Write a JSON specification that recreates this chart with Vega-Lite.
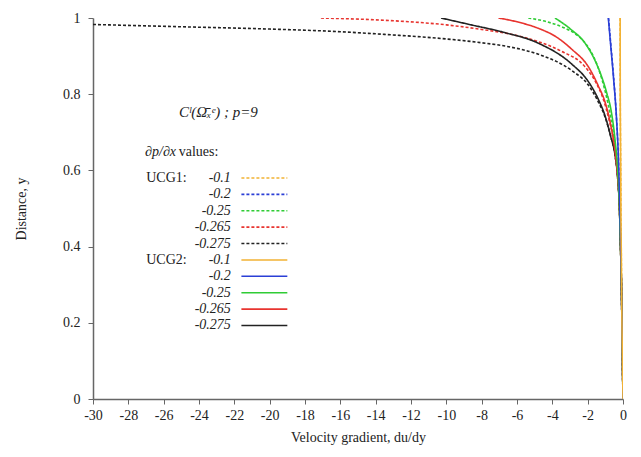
{
  "$schema": "https://vega.github.io/schema/vega-lite/v6.json",
  "width": 530,
  "height": 381,
  "autosize": "none",
  "padding": {"left": 93, "top": 18, "right": 18, "bottom": 58},
  "background": "white",
  "config": {
    "font": "Liberation Serif",
    "view": {"stroke": null},
    "axis": {
      "grid": false,
      "domainColor": "#666666",
      "domainWidth": 1.5,
      "tickColor": "#666666",
      "tickSize": 5,
      "labelFont": "Liberation Serif",
      "labelFontSize": 14,
      "labelColor": "#222222",
      "labelOverlap": false,
      "labelFlush": false,
      "titleFont": "Liberation Serif",
      "titleFontSize": 14,
      "titleFontWeight": "normal",
      "titleColor": "#222222"
    },
    "axisX": {"labelOverlap": false, "labelFlush": false, "labelSeparation": 0, "labelPadding": 4, "titlePadding": 8},
    "axisY": {"labelOverlap": false, "labelFlush": false, "labelPadding": 8, "titlePadding": 34}
  },
  "datasets": {
    "curves": [
      {"curve": "UCG1 -0.1", "set": "UCG1", "dp": "-0.1", "x": -0.16, "y": 1.0},
      {"curve": "UCG1 -0.1", "set": "UCG1", "dp": "-0.1", "x": -0.155, "y": 0.8},
      {"curve": "UCG1 -0.1", "set": "UCG1", "dp": "-0.1", "x": -0.145, "y": 0.7},
      {"curve": "UCG1 -0.1", "set": "UCG1", "dp": "-0.1", "x": -0.13, "y": 0.6},
      {"curve": "UCG1 -0.1", "set": "UCG1", "dp": "-0.1", "x": -0.12, "y": 0.5},
      {"curve": "UCG1 -0.1", "set": "UCG1", "dp": "-0.1", "x": -0.1, "y": 0.4},
      {"curve": "UCG1 -0.1", "set": "UCG1", "dp": "-0.1", "x": -0.08, "y": 0.3},
      {"curve": "UCG1 -0.1", "set": "UCG1", "dp": "-0.1", "x": -0.06, "y": 0.2},
      {"curve": "UCG1 -0.1", "set": "UCG1", "dp": "-0.1", "x": -0.03, "y": 0.1},
      {"curve": "UCG1 -0.1", "set": "UCG1", "dp": "-0.1", "x": 0, "y": 0},

      {"curve": "UCG1 -0.2", "set": "UCG1", "dp": "-0.2", "x": -0.82, "y": 1.0},
      {"curve": "UCG1 -0.2", "set": "UCG1", "dp": "-0.2", "x": -0.69, "y": 0.93},
      {"curve": "UCG1 -0.2", "set": "UCG1", "dp": "-0.2", "x": -0.54, "y": 0.85},
      {"curve": "UCG1 -0.2", "set": "UCG1", "dp": "-0.2", "x": -0.36, "y": 0.73},
      {"curve": "UCG1 -0.2", "set": "UCG1", "dp": "-0.2", "x": -0.25, "y": 0.62},
      {"curve": "UCG1 -0.2", "set": "UCG1", "dp": "-0.2", "x": -0.18, "y": 0.5},
      {"curve": "UCG1 -0.2", "set": "UCG1", "dp": "-0.2", "x": -0.13, "y": 0.4},
      {"curve": "UCG1 -0.2", "set": "UCG1", "dp": "-0.2", "x": -0.09, "y": 0.3},
      {"curve": "UCG1 -0.2", "set": "UCG1", "dp": "-0.2", "x": -0.06, "y": 0.2},
      {"curve": "UCG1 -0.2", "set": "UCG1", "dp": "-0.2", "x": -0.03, "y": 0.1},
      {"curve": "UCG1 -0.2", "set": "UCG1", "dp": "-0.2", "x": 0, "y": 0},

      {"curve": "UCG1 -0.25", "set": "UCG1", "dp": "-0.25", "x": -5.36, "y": 1.0},
      {"curve": "UCG1 -0.25", "set": "UCG1", "dp": "-0.25", "x": -4.3, "y": 0.99},
      {"curve": "UCG1 -0.25", "set": "UCG1", "dp": "-0.25", "x": -3.47, "y": 0.977},
      {"curve": "UCG1 -0.25", "set": "UCG1", "dp": "-0.25", "x": -2.6, "y": 0.955},
      {"curve": "UCG1 -0.25", "set": "UCG1", "dp": "-0.25", "x": -2.1, "y": 0.932},
      {"curve": "UCG1 -0.25", "set": "UCG1", "dp": "-0.25", "x": -1.58, "y": 0.89},
      {"curve": "UCG1 -0.25", "set": "UCG1", "dp": "-0.25", "x": -1.2, "y": 0.84},
      {"curve": "UCG1 -0.25", "set": "UCG1", "dp": "-0.25", "x": -0.98, "y": 0.802},
      {"curve": "UCG1 -0.25", "set": "UCG1", "dp": "-0.25", "x": -0.7, "y": 0.74},
      {"curve": "UCG1 -0.25", "set": "UCG1", "dp": "-0.25", "x": -0.45, "y": 0.66},
      {"curve": "UCG1 -0.25", "set": "UCG1", "dp": "-0.25", "x": -0.3, "y": 0.58},
      {"curve": "UCG1 -0.25", "set": "UCG1", "dp": "-0.25", "x": -0.2, "y": 0.5},
      {"curve": "UCG1 -0.25", "set": "UCG1", "dp": "-0.25", "x": -0.14, "y": 0.4},
      {"curve": "UCG1 -0.25", "set": "UCG1", "dp": "-0.25", "x": -0.09, "y": 0.3},
      {"curve": "UCG1 -0.25", "set": "UCG1", "dp": "-0.25", "x": -0.06, "y": 0.2},
      {"curve": "UCG1 -0.25", "set": "UCG1", "dp": "-0.25", "x": -0.03, "y": 0.1},
      {"curve": "UCG1 -0.25", "set": "UCG1", "dp": "-0.25", "x": 0, "y": 0},

      {"curve": "UCG1 -0.265", "set": "UCG1", "dp": "-0.265", "x": -17.1, "y": 1.0},
      {"curve": "UCG1 -0.265", "set": "UCG1", "dp": "-0.265", "x": -13.5, "y": 0.994},
      {"curve": "UCG1 -0.265", "set": "UCG1", "dp": "-0.265", "x": -10, "y": 0.982},
      {"curve": "UCG1 -0.265", "set": "UCG1", "dp": "-0.265", "x": -8, "y": 0.97},
      {"curve": "UCG1 -0.265", "set": "UCG1", "dp": "-0.265", "x": -6.4, "y": 0.958},
      {"curve": "UCG1 -0.265", "set": "UCG1", "dp": "-0.265", "x": -4.8, "y": 0.938},
      {"curve": "UCG1 -0.265", "set": "UCG1", "dp": "-0.265", "x": -3.5, "y": 0.913},
      {"curve": "UCG1 -0.265", "set": "UCG1", "dp": "-0.265", "x": -2.15, "y": 0.872},
      {"curve": "UCG1 -0.265", "set": "UCG1", "dp": "-0.265", "x": -1.5, "y": 0.828},
      {"curve": "UCG1 -0.265", "set": "UCG1", "dp": "-0.265", "x": -1.1, "y": 0.785},
      {"curve": "UCG1 -0.265", "set": "UCG1", "dp": "-0.265", "x": -0.8, "y": 0.735},
      {"curve": "UCG1 -0.265", "set": "UCG1", "dp": "-0.265", "x": -0.5, "y": 0.67},
      {"curve": "UCG1 -0.265", "set": "UCG1", "dp": "-0.265", "x": -0.3, "y": 0.59},
      {"curve": "UCG1 -0.265", "set": "UCG1", "dp": "-0.265", "x": -0.2, "y": 0.5},
      {"curve": "UCG1 -0.265", "set": "UCG1", "dp": "-0.265", "x": -0.14, "y": 0.4},
      {"curve": "UCG1 -0.265", "set": "UCG1", "dp": "-0.265", "x": -0.09, "y": 0.3},
      {"curve": "UCG1 -0.265", "set": "UCG1", "dp": "-0.265", "x": -0.06, "y": 0.2},
      {"curve": "UCG1 -0.265", "set": "UCG1", "dp": "-0.265", "x": -0.03, "y": 0.1},
      {"curve": "UCG1 -0.265", "set": "UCG1", "dp": "-0.265", "x": 0, "y": 0},

      {"curve": "UCG1 -0.275", "set": "UCG1", "dp": "-0.275", "x": -30, "y": 0.983},
      {"curve": "UCG1 -0.275", "set": "UCG1", "dp": "-0.275", "x": -25, "y": 0.977},
      {"curve": "UCG1 -0.275", "set": "UCG1", "dp": "-0.275", "x": -20, "y": 0.971},
      {"curve": "UCG1 -0.275", "set": "UCG1", "dp": "-0.275", "x": -16, "y": 0.964},
      {"curve": "UCG1 -0.275", "set": "UCG1", "dp": "-0.275", "x": -13.5, "y": 0.957},
      {"curve": "UCG1 -0.275", "set": "UCG1", "dp": "-0.275", "x": -10, "y": 0.945},
      {"curve": "UCG1 -0.275", "set": "UCG1", "dp": "-0.275", "x": -8, "y": 0.935},
      {"curve": "UCG1 -0.275", "set": "UCG1", "dp": "-0.275", "x": -6.4, "y": 0.924},
      {"curve": "UCG1 -0.275", "set": "UCG1", "dp": "-0.275", "x": -4.8, "y": 0.905},
      {"curve": "UCG1 -0.275", "set": "UCG1", "dp": "-0.275", "x": -2.9, "y": 0.862},
      {"curve": "UCG1 -0.275", "set": "UCG1", "dp": "-0.275", "x": -1.96, "y": 0.824},
      {"curve": "UCG1 -0.275", "set": "UCG1", "dp": "-0.275", "x": -1.4, "y": 0.78},
      {"curve": "UCG1 -0.275", "set": "UCG1", "dp": "-0.275", "x": -1.0, "y": 0.738},
      {"curve": "UCG1 -0.275", "set": "UCG1", "dp": "-0.275", "x": -0.7, "y": 0.69},
      {"curve": "UCG1 -0.275", "set": "UCG1", "dp": "-0.275", "x": -0.45, "y": 0.64},
      {"curve": "UCG1 -0.275", "set": "UCG1", "dp": "-0.275", "x": -0.3, "y": 0.58},
      {"curve": "UCG1 -0.275", "set": "UCG1", "dp": "-0.275", "x": -0.2, "y": 0.5},
      {"curve": "UCG1 -0.275", "set": "UCG1", "dp": "-0.275", "x": -0.14, "y": 0.4},
      {"curve": "UCG1 -0.275", "set": "UCG1", "dp": "-0.275", "x": -0.09, "y": 0.3},
      {"curve": "UCG1 -0.275", "set": "UCG1", "dp": "-0.275", "x": -0.06, "y": 0.2},
      {"curve": "UCG1 -0.275", "set": "UCG1", "dp": "-0.275", "x": -0.03, "y": 0.1},
      {"curve": "UCG1 -0.275", "set": "UCG1", "dp": "-0.275", "x": 0, "y": 0},

      {"curve": "UCG2 -0.275", "set": "UCG2", "dp": "-0.275", "x": -10.3, "y": 1.0},
      {"curve": "UCG2 -0.275", "set": "UCG2", "dp": "-0.275", "x": -8.5, "y": 0.981},
      {"curve": "UCG2 -0.275", "set": "UCG2", "dp": "-0.275", "x": -6.7, "y": 0.962},
      {"curve": "UCG2 -0.275", "set": "UCG2", "dp": "-0.275", "x": -4.8, "y": 0.934},
      {"curve": "UCG2 -0.275", "set": "UCG2", "dp": "-0.275", "x": -2.9, "y": 0.879},
      {"curve": "UCG2 -0.275", "set": "UCG2", "dp": "-0.275", "x": -1.96, "y": 0.833},
      {"curve": "UCG2 -0.275", "set": "UCG2", "dp": "-0.275", "x": -1.4, "y": 0.787},
      {"curve": "UCG2 -0.275", "set": "UCG2", "dp": "-0.275", "x": -1.0, "y": 0.741},
      {"curve": "UCG2 -0.275", "set": "UCG2", "dp": "-0.275", "x": -0.7, "y": 0.69},
      {"curve": "UCG2 -0.275", "set": "UCG2", "dp": "-0.275", "x": -0.45, "y": 0.64},
      {"curve": "UCG2 -0.275", "set": "UCG2", "dp": "-0.275", "x": -0.3, "y": 0.58},
      {"curve": "UCG2 -0.275", "set": "UCG2", "dp": "-0.275", "x": -0.2, "y": 0.5},
      {"curve": "UCG2 -0.275", "set": "UCG2", "dp": "-0.275", "x": -0.14, "y": 0.4},
      {"curve": "UCG2 -0.275", "set": "UCG2", "dp": "-0.275", "x": -0.09, "y": 0.3},
      {"curve": "UCG2 -0.275", "set": "UCG2", "dp": "-0.275", "x": -0.06, "y": 0.2},
      {"curve": "UCG2 -0.275", "set": "UCG2", "dp": "-0.275", "x": -0.03, "y": 0.1},
      {"curve": "UCG2 -0.275", "set": "UCG2", "dp": "-0.275", "x": 0, "y": 0},

      {"curve": "UCG2 -0.265", "set": "UCG2", "dp": "-0.265", "x": -7.05, "y": 1.0},
      {"curve": "UCG2 -0.265", "set": "UCG2", "dp": "-0.265", "x": -6.0, "y": 0.99},
      {"curve": "UCG2 -0.265", "set": "UCG2", "dp": "-0.265", "x": -4.8, "y": 0.973},
      {"curve": "UCG2 -0.265", "set": "UCG2", "dp": "-0.265", "x": -3.8, "y": 0.951},
      {"curve": "UCG2 -0.265", "set": "UCG2", "dp": "-0.265", "x": -2.9, "y": 0.918},
      {"curve": "UCG2 -0.265", "set": "UCG2", "dp": "-0.265", "x": -1.96, "y": 0.872},
      {"curve": "UCG2 -0.265", "set": "UCG2", "dp": "-0.265", "x": -1.4, "y": 0.822},
      {"curve": "UCG2 -0.265", "set": "UCG2", "dp": "-0.265", "x": -1.0, "y": 0.777},
      {"curve": "UCG2 -0.265", "set": "UCG2", "dp": "-0.265", "x": -0.7, "y": 0.72},
      {"curve": "UCG2 -0.265", "set": "UCG2", "dp": "-0.265", "x": -0.45, "y": 0.65},
      {"curve": "UCG2 -0.265", "set": "UCG2", "dp": "-0.265", "x": -0.3, "y": 0.58},
      {"curve": "UCG2 -0.265", "set": "UCG2", "dp": "-0.265", "x": -0.2, "y": 0.5},
      {"curve": "UCG2 -0.265", "set": "UCG2", "dp": "-0.265", "x": -0.14, "y": 0.4},
      {"curve": "UCG2 -0.265", "set": "UCG2", "dp": "-0.265", "x": -0.09, "y": 0.3},
      {"curve": "UCG2 -0.265", "set": "UCG2", "dp": "-0.265", "x": -0.06, "y": 0.2},
      {"curve": "UCG2 -0.265", "set": "UCG2", "dp": "-0.265", "x": -0.03, "y": 0.1},
      {"curve": "UCG2 -0.265", "set": "UCG2", "dp": "-0.265", "x": 0, "y": 0},

      {"curve": "UCG2 -0.25", "set": "UCG2", "dp": "-0.25", "x": -3.85, "y": 1.0},
      {"curve": "UCG2 -0.25", "set": "UCG2", "dp": "-0.25", "x": -3.0, "y": 0.972},
      {"curve": "UCG2 -0.25", "set": "UCG2", "dp": "-0.25", "x": -2.15, "y": 0.934},
      {"curve": "UCG2 -0.25", "set": "UCG2", "dp": "-0.25", "x": -1.6, "y": 0.89},
      {"curve": "UCG2 -0.25", "set": "UCG2", "dp": "-0.25", "x": -1.21, "y": 0.846},
      {"curve": "UCG2 -0.25", "set": "UCG2", "dp": "-0.25", "x": -0.9, "y": 0.8},
      {"curve": "UCG2 -0.25", "set": "UCG2", "dp": "-0.25", "x": -0.68, "y": 0.759},
      {"curve": "UCG2 -0.25", "set": "UCG2", "dp": "-0.25", "x": -0.45, "y": 0.68},
      {"curve": "UCG2 -0.25", "set": "UCG2", "dp": "-0.25", "x": -0.3, "y": 0.6},
      {"curve": "UCG2 -0.25", "set": "UCG2", "dp": "-0.25", "x": -0.2, "y": 0.5},
      {"curve": "UCG2 -0.25", "set": "UCG2", "dp": "-0.25", "x": -0.14, "y": 0.4},
      {"curve": "UCG2 -0.25", "set": "UCG2", "dp": "-0.25", "x": -0.09, "y": 0.3},
      {"curve": "UCG2 -0.25", "set": "UCG2", "dp": "-0.25", "x": -0.06, "y": 0.2},
      {"curve": "UCG2 -0.25", "set": "UCG2", "dp": "-0.25", "x": -0.03, "y": 0.1},
      {"curve": "UCG2 -0.25", "set": "UCG2", "dp": "-0.25", "x": 0, "y": 0},

      {"curve": "UCG2 -0.2", "set": "UCG2", "dp": "-0.2", "x": -0.83, "y": 1.0},
      {"curve": "UCG2 -0.2", "set": "UCG2", "dp": "-0.2", "x": -0.7, "y": 0.93},
      {"curve": "UCG2 -0.2", "set": "UCG2", "dp": "-0.2", "x": -0.55, "y": 0.85},
      {"curve": "UCG2 -0.2", "set": "UCG2", "dp": "-0.2", "x": -0.36, "y": 0.73},
      {"curve": "UCG2 -0.2", "set": "UCG2", "dp": "-0.2", "x": -0.25, "y": 0.62},
      {"curve": "UCG2 -0.2", "set": "UCG2", "dp": "-0.2", "x": -0.18, "y": 0.5},
      {"curve": "UCG2 -0.2", "set": "UCG2", "dp": "-0.2", "x": -0.13, "y": 0.4},
      {"curve": "UCG2 -0.2", "set": "UCG2", "dp": "-0.2", "x": -0.09, "y": 0.3},
      {"curve": "UCG2 -0.2", "set": "UCG2", "dp": "-0.2", "x": -0.06, "y": 0.2},
      {"curve": "UCG2 -0.2", "set": "UCG2", "dp": "-0.2", "x": -0.03, "y": 0.1},
      {"curve": "UCG2 -0.2", "set": "UCG2", "dp": "-0.2", "x": 0, "y": 0},

      {"curve": "UCG2 -0.1", "set": "UCG2", "dp": "-0.1", "x": -0.16, "y": 1.0},
      {"curve": "UCG2 -0.1", "set": "UCG2", "dp": "-0.1", "x": -0.155, "y": 0.8},
      {"curve": "UCG2 -0.1", "set": "UCG2", "dp": "-0.1", "x": -0.145, "y": 0.7},
      {"curve": "UCG2 -0.1", "set": "UCG2", "dp": "-0.1", "x": -0.13, "y": 0.6},
      {"curve": "UCG2 -0.1", "set": "UCG2", "dp": "-0.1", "x": -0.12, "y": 0.5},
      {"curve": "UCG2 -0.1", "set": "UCG2", "dp": "-0.1", "x": -0.1, "y": 0.4},
      {"curve": "UCG2 -0.1", "set": "UCG2", "dp": "-0.1", "x": -0.08, "y": 0.3},
      {"curve": "UCG2 -0.1", "set": "UCG2", "dp": "-0.1", "x": -0.06, "y": 0.2},
      {"curve": "UCG2 -0.1", "set": "UCG2", "dp": "-0.1", "x": -0.03, "y": 0.1},
      {"curve": "UCG2 -0.1", "set": "UCG2", "dp": "-0.1", "x": 0, "y": 0}
    ],
    "legend": [
      {"grp": "UCG1:", "val": "-0.1", "set": "UCG1", "dp": "-0.1", "ly": 0.58},
      {"grp": "", "val": "-0.2", "set": "UCG1", "dp": "-0.2", "ly": 0.537},
      {"grp": "", "val": "-0.25", "set": "UCG1", "dp": "-0.25", "ly": 0.494},
      {"grp": "", "val": "-0.265", "set": "UCG1", "dp": "-0.265", "ly": 0.451},
      {"grp": "", "val": "-0.275", "set": "UCG1", "dp": "-0.275", "ly": 0.408},
      {"grp": "UCG2:", "val": "-0.1", "set": "UCG2", "dp": "-0.1", "ly": 0.365},
      {"grp": "", "val": "-0.2", "set": "UCG2", "dp": "-0.2", "ly": 0.322},
      {"grp": "", "val": "-0.25", "set": "UCG2", "dp": "-0.25", "ly": 0.279},
      {"grp": "", "val": "-0.265", "set": "UCG2", "dp": "-0.265", "ly": 0.236},
      {"grp": "", "val": "-0.275", "set": "UCG2", "dp": "-0.275", "ly": 0.193}
    ],
    "notes": [
      {"t": "∂p/∂x", "tx": -25.3, "ty": 0.648, "kind": "dpdx"},
      {"t": "values:", "tx": -25.15, "ty": 0.648, "kind": "values"},
      {"t": "Cˡ(Ω̄ₓᵉ) ; p=9", "tx": -22.9, "ty": 0.753, "kind": "formula"}
    ]
  },
  "encoding": {
    "x": {
      "type": "quantitative",
      "scale": {"domain": [-30, 0], "nice": false, "zero": false},
      "axis": {
        "title": "Velocity gradient, du/dy",
        "values": [-30, -28, -26, -24, -22, -20, -18, -16, -14, -12, -10, -8, -6, -4, -2, 0],
        "labelExpr": "'' + datum.value",
        "labelOverlap": false,
        "labelFlush": false
      }
    },
    "y": {
      "type": "quantitative",
      "scale": {"domain": [0, 1], "nice": false},
      "axis": {
        "title": "Distance, y",
        "values": [0, 0.2, 0.4, 0.6, 0.8, 1],
        "labelExpr": "'' + datum.value",
        "labelOverlap": false,
        "labelFlush": false
      }
    }
  },
  "layer": [
    {
      "data": {"name": "curves"},
      "mark": {"type": "line", "strokeWidth": 1.6, "clip": true, "interpolate": "monotone"},
      "encoding": {
        "x": {"field": "x", "type": "quantitative"},
        "y": {"field": "y", "type": "quantitative"},
        "color": {
          "field": "dp", "type": "nominal",
          "scale": {"domain": ["-0.1", "-0.2", "-0.25", "-0.265", "-0.275"],
                    "range": ["#f2b233", "#2b3fd6", "#2fcc35", "#e8342f", "#222222"]},
          "legend": null
        },
        "strokeDash": {
          "field": "set", "type": "nominal",
          "scale": {"domain": ["UCG1", "UCG2"], "range": [[3, 2], [1, 0]]},
          "legend": null
        },
        "detail": {"field": "curve"},
        "order": {"field": "x", "type": "quantitative"}
      }
    },
    {
      "data": {"name": "legend"},
      "mark": {"type": "rule", "strokeWidth": 1.6},
      "encoding": {
        "x": {"datum": -21.6},
        "x2": {"datum": -19.0},
        "y": {"field": "ly", "type": "quantitative"},
        "color": {"field": "dp", "type": "nominal", "legend": null},
        "strokeDash": {"field": "set", "type": "nominal", "legend": null}
      }
    },
    {
      "data": {"name": "legend"},
      "mark": {"type": "text", "align": "right", "baseline": "middle", "fontStyle": "italic", "fontSize": 14, "color": "#222222"},
      "encoding": {
        "x": {"datum": -22.2},
        "y": {"field": "ly", "type": "quantitative"},
        "text": {"field": "val"}
      }
    },
    {
      "data": {"name": "legend"},
      "mark": {"type": "text", "align": "right", "baseline": "middle", "fontSize": 14, "color": "#222222"},
      "encoding": {
        "x": {"datum": -24.7},
        "y": {"field": "ly", "type": "quantitative"},
        "text": {"field": "grp"}
      }
    },
    {
      "data": {"name": "notes"},
      "transform": [{"filter": "datum.kind === 'dpdx'"}],
      "mark": {"type": "text", "align": "right", "baseline": "middle", "fontStyle": "italic", "fontSize": 14, "color": "#222222"},
      "encoding": {
        "x": {"field": "tx", "type": "quantitative"},
        "y": {"field": "ty", "type": "quantitative"},
        "text": {"field": "t"}
      }
    },
    {
      "data": {"name": "notes"},
      "transform": [{"filter": "datum.kind === 'values'"}],
      "mark": {"type": "text", "align": "left", "baseline": "middle", "fontSize": 14, "color": "#222222"},
      "encoding": {
        "x": {"field": "tx", "type": "quantitative"},
        "y": {"field": "ty", "type": "quantitative"},
        "text": {"field": "t"}
      }
    },
    {
      "data": {"name": "notes"},
      "transform": [{"filter": "datum.kind === 'formula'"}],
      "mark": {"type": "text", "align": "center", "baseline": "middle", "fontStyle": "italic", "fontSize": 15, "color": "#222222"},
      "encoding": {
        "x": {"field": "tx", "type": "quantitative"},
        "y": {"field": "ty", "type": "quantitative"},
        "text": {"field": "t"}
      }
    }
  ]
}
